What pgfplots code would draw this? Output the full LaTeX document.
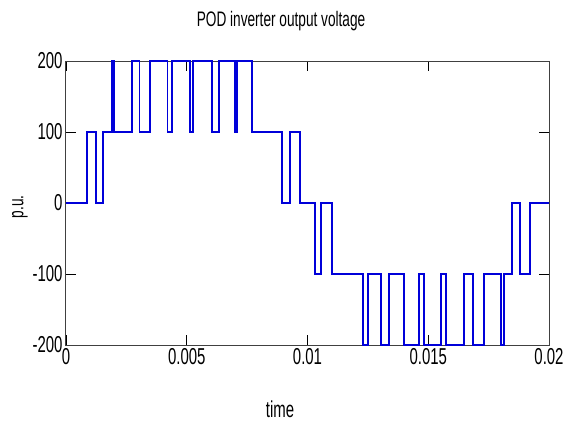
\documentclass[border=0pt]{standalone}
\usepackage{fontspec}
\setmainfont{Liberation Sans}[FakeStretch=0.65]
\usepackage{pgfplots}
\pgfplotsset{compat=1.18}
\begin{document}
\begin{tikzpicture}[x=1pt,y=1pt]
\useasboundingbox (0,0) rectangle (573,421);
\begin{axis}[
  at={(66pt,76pt)}, anchor=south west,
  width=483pt, height=284pt, scale only axis,
  xmin=0, xmax=0.02, ymin=-200, ymax=200,
  scaled x ticks=false, scaled y ticks=false,
  xtick={0,0.005,0.01,0.015,0.02},
  xticklabels={0,0.005,0.01,0.015,0.02},
  ytick={-200,-100,0,100,200},
  yticklabels={-200,-100,0,100,200},
  xtick pos=both, ytick pos=both,
  xticklabel pos=left, yticklabel pos=left,
  tick align=inside,
  major tick length=10pt,
  tick style={black, line width=0.9pt},
  axis line style={black!75, line width=1pt},
  ticklabel style={font=\fontsize{23}{23}\selectfont},
  clip=false,
]
\addplot[const plot, blue!85!black, line width=1.8pt] coordinates {
(0,0) (0.000857,100) (0.001242,0) (0.001532,100) (0.001892,200) (0.001988,100)
(0.002720,200) (0.003043,100) (0.003478,200) (0.004203,100) (0.004377,200)
(0.005135,100) (0.005271,200) (0.006033,100) (0.006335,200) (0.006998,100)
(0.007081,200) (0.007702,100) (0.008932,0) (0.009275,100) (0.009689,0)
(0.010311,-100) (0.010559,0) (0.011014,-100) (0.012298,-200) (0.012505,-100)
(0.013043,-200) (0.013375,-100) (0.013996,-200) (0.014617,-100) (0.014824,-200)
(0.015528,-100) (0.015735,-200) (0.016480,-100) (0.016853,-200) (0.017308,-100)
(0.018012,-200) (0.018137,-100) (0.018455,0) (0.018799,-100) (0.019213,0) (0.02,0)
};
\end{axis}
\node[font=\fontsize{21}{21}\selectfont] at (281,400) {POD inverter output voltage};
\node[font=\fontsize{23}{23}\selectfont] at (280,12) {time};
\node[font=\fontsize{21}{21}\selectfont, rotate=90] at (20,214) {p.u.};
\end{tikzpicture}
\end{document}
